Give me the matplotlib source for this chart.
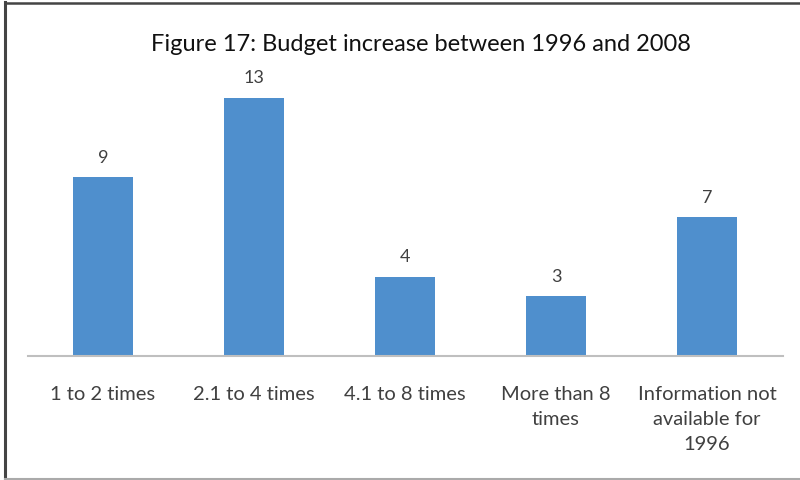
import matplotlib
matplotlib.use("Agg")
import matplotlib.pyplot as plt
from matplotlib.lines import Line2D

categories = ["1 to 2 times", "2.1 to 4 times", "4.1 to 8 times",
              "More than 8\ntimes", "Information not\navailable for\n1996"]
values = [9, 13, 4, 3, 7]
title = "Figure 17: Budget increase between 1996 and 2008"

plt.rcParams['font.family'] = ['Lato', 'DejaVu Sans']

W, H = 800, 481
fig = plt.figure(figsize=(W / 100, H / 100), dpi=100)
fig.patch.set_facecolor('white')

base_y = 357
px_per_unit = 19.85
ytop = 14
top_px = base_y - ytop * px_per_unit
ax = fig.add_axes([27.5 / W, (H - base_y) / H, 755 / W, (base_y - top_px) / H])

x = list(range(len(categories)))
ax.bar(x, values, width=0.40, color='#4F8FCD', zorder=2)
ax.set_xlim(-0.5, len(categories) - 0.5)
ax.set_ylim(0, ytop)

for xi, v in zip(x, values):
    ax.annotate(str(v), (xi, v), xytext=(0, 9), textcoords='offset points',
                ha='center', va='bottom', fontsize=13, color='#404040')

ax.set_xticks(x)
ax.set_xticklabels(categories, fontsize=14.5, color='#404040', linespacing=1.55, va='top')
ax.tick_params(axis='x', length=0, pad=21)
ax.set_yticks([])
for s in ['top', 'right', 'left']:
    ax.spines[s].set_visible(False)
ax.spines['bottom'].set_color('#BFBFBF')
ax.spines['bottom'].set_linewidth(1.5)

fig.text(421 / W, 1 - 45 / H, title, ha='center', va='center', fontsize=17, color='#111111')

# frame lines
fig.add_artist(Line2D([4.5 / W, 4.5 / W], [0, 1 - 3 / H], color='#444444', lw=2.2, transform=fig.transFigure))
fig.add_artist(Line2D([4.5 / W, 1], [1 - 3.5 / H, 1 - 3.5 / H], color='#444444', lw=1.8, transform=fig.transFigure))
fig.add_artist(Line2D([4.5 / W, 1], [1.5 / H, 1.5 / H], color='#AAAAAA', lw=1.5, transform=fig.transFigure))

fig.savefig('out.png', dpi=100)
